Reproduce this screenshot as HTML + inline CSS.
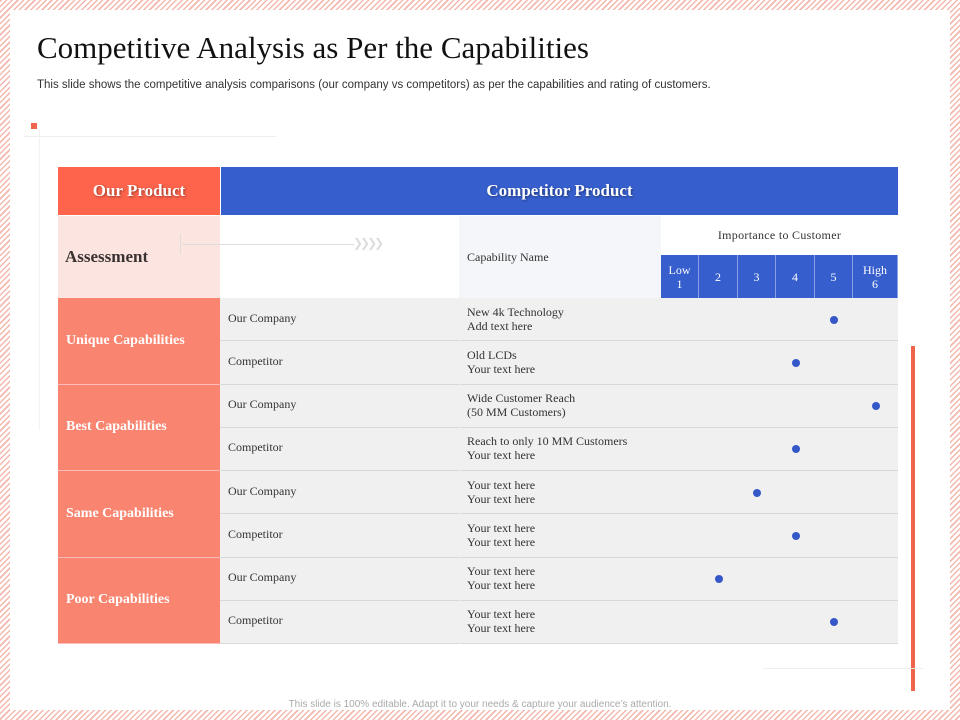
<!DOCTYPE html>
<html><head><meta charset="utf-8"><style>
body{margin:0;width:960px;height:720px;position:relative;overflow:hidden;font-family:"Liberation Sans",sans-serif;
background:repeating-linear-gradient(135deg,#f3b8ae 0 1.5px,#fff 1.5px 4px);}
.abs{position:absolute}
#inner{left:10px;top:10px;width:940px;height:700px;background:#fff}
.serif{font-family:"Liberation Serif",serif}
.c{display:flex;align-items:center;justify-content:center;text-align:center}
.row{position:absolute;left:220px;width:678px;background:#f0f0f0;border-bottom:1px solid #d8d8d8}
.lab{position:absolute;left:8px;font-size:12px;color:#333}
.cap{position:absolute;left:247px;font-size:12px;color:#333;line-height:14px}
.grp{position:absolute;left:58px;width:162px;background:#f98570;color:#fff;font-weight:bold;font-size:14px;display:flex;align-items:center;padding-left:8px;box-sizing:border-box;border-bottom:1px solid #fbb}
.num{position:absolute;top:255px;height:43px;background:#365ecc;color:#fff;font-size:12px;border-right:1px solid #8aa0e6;box-sizing:border-box;line-height:14px}
</style></head><body>
<div id="inner" class="abs"></div>
<div class="abs serif" style="left:37px;top:30px;font-size:31px;color:#111">Competitive Analysis as Per the Capabilities</div>
<div class="abs" style="left:37px;top:79px;font-size:11.5px;color:#333">This slide shows the competitive analysis comparisons (our company vs competitors) as per the capabilities and rating of customers.</div>
<div class="abs" style="left:31px;top:123px;width:6px;height:6px;background:#f0644c"></div>
<div class="abs" style="left:24px;top:136px;width:252px;height:1px;background:#eee"></div>
<div class="abs" style="left:39px;top:130px;width:1px;height:300px;background:#f2f2f2"></div>
<div class="abs" style="left:911px;top:346px;width:4px;height:345px;background:#f0644c"></div>
<div class="abs" style="left:763px;top:668px;width:160px;height:1px;background:#eee"></div>

<div class="abs c serif" style="left:58px;top:167px;width:162px;height:48px;background:#fe634b;color:#fff;font-weight:bold;font-size:17px;text-shadow:1px 1px 2px rgba(0,0,0,.4)">Our Product</div>
<div class="abs c serif" style="left:221px;top:167px;width:677px;height:48px;background:#365ecc;color:#fff;font-weight:bold;font-size:17px;text-shadow:1px 1px 2px rgba(0,0,0,.4)">Competitor Product</div>
<div class="abs serif" style="left:58px;top:216px;width:162px;height:82px;background:#fce5e1;font-weight:bold;font-size:17px;color:#3a3232;display:flex;align-items:center;padding-left:7px;box-sizing:border-box">Assessment</div>
<div class="abs" style="left:220px;top:216px;width:240px;height:82px;background:#fff"></div>
<div class="abs" style="left:180px;top:234px;width:1px;height:20px;background:#ddd"></div>
<div class="abs" style="left:182px;top:244px;width:172px;height:1px;background:#ddd"></div>
<div class="abs" style="left:353px;top:236px;font-size:12px;color:#ddd;letter-spacing:-3px">❯❯❯❯</div>
<div class="abs serif" style="left:459px;top:216px;width:202px;height:82px;background:#f5f6fa;font-size:12px;color:#333;display:flex;align-items:center;padding-left:8px;box-sizing:border-box">Capability Name</div>
<div class="abs c serif" style="left:661px;top:216px;width:237px;height:39px;background:#fff;font-size:12px;color:#333;letter-spacing:.3px">Importance to Customer</div>
<div id="table"></div>

<div class="abs" style="left:0;top:699px;width:960px;text-align:center;font-size:10px;color:#aaa">This slide is 100% editable. Adapt it to your needs &amp; capture your audience’s attention.</div>

<script>
const ratingLabels=["Low\n1","2","3","4","5","High\n6"];
const groups=["Unique Capabilities","Best Capabilities","Same Capabilities","Poor Capabilities"];
const rowLabels=["Our Company","Competitor","Our Company","Competitor","Our Company","Competitor","Our Company","Competitor"];
const capabilities=[["New 4k Technology","Add text here"],["Old LCDs","Your text here"],["Wide Customer Reach","(50 MM Customers)"],["Reach to only 10 MM Customers","Your text here"],["Your text here","Your text here"],["Your text here","Your text here"],["Your text here","Your text here"],["Your text here","Your text here"]];
const ratings=[5,4,6,4,3,4,2,5];

const root=document.body;
const colX=[661,699,738,776,815,853,898];
const xOf=r=>(colX[r-1]+colX[r])/2;
const top0=298,rowH=43.25;
const yOf=i=>top0+i*rowH;
ratingLabels.forEach((t,i)=>{
 const d=document.createElement('div');
 d.className='num c serif';
 d.style.left=colX[i]+'px';d.style.width=(colX[i+1]-colX[i])+'px';
 d.innerHTML=t.replace('\n','<br>');
 
 
 root.appendChild(d);
});
rowLabels.forEach((t,i)=>{
 const r=document.createElement('div');
 r.className='row serif';
 r.style.top=yOf(i)+'px';r.style.height=(rowH-1)+'px';
 
 
 r.innerHTML='<div class="lab" style="top:'+(rowH/2-9)+'px">'+t+'</div><div class="cap" style="top:'+(rowH/2-15)+'px">'+capabilities[i][0]+'<br>'+capabilities[i][1]+'</div>';
 root.appendChild(r);
 const sep=document.createElement('div');
 sep.className='abs';sep.style.cssText='left:459px;width:1px;background:#f0f0f0;top:'+yOf(i)+'px;height:'+rowH+'px';
 
 
 root.appendChild(sep);
 const dot=document.createElement('div');
 dot.className='abs';
 dot.style.cssText='width:8px;height:8px;border-radius:50%;background:#3558c8;left:'+(xOf(ratings[i])-4)+'px;top:'+(yOf(i)+rowH/2-4)+'px';
 
 
 root.appendChild(dot);
});
groups.forEach((g,i)=>{
 const d=document.createElement('div');
 d.className='grp serif';
 d.style.top=yOf(i*2)+'px';d.style.height=(rowH*2)+'px';
 d.textContent=g;
 
 
 root.appendChild(d);
});
</script>
</body></html>
